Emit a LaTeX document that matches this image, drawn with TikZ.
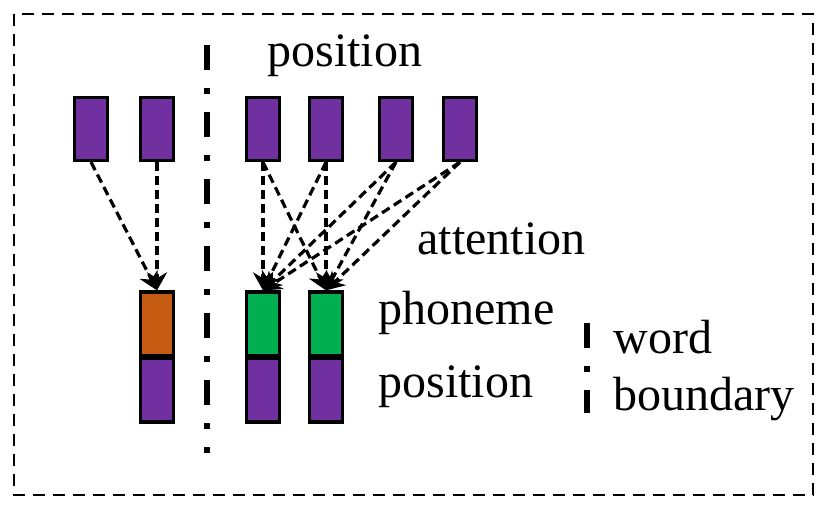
\documentclass[tikz,border=0pt]{standalone}
\usepackage{fontspec}
\setmainfont{Liberation Serif}
\usepackage{tikz}
\usetikzlibrary{arrows.meta}

\definecolor{pospurple}{HTML}{7030A0}
\definecolor{phorange}{HTML}{C55A11}
\definecolor{phgreen}{HTML}{00B050}

\begin{document}
\begin{tikzpicture}[x=0.5pt,y=-0.5pt,>=Latex,
    box/.style={draw=black,line width=1.6pt,inner sep=0pt,
        minimum width=16.5pt,minimum height=31.5pt},
    posbox/.style={box,fill=pospurple},
    cell/.style={box,minimum height=32pt},
    attn/.style={->,line width=1.6pt,dash pattern=on 4.5pt off 2.5pt,
        >={Stealth[length=9pt,width=10pt]}},
    lbl/.style={font=\fontsize{24}{28}\selectfont,inner sep=0pt,anchor=base west},
    divider/.style={line width=3pt,line cap=butt,
        dash pattern=on 12.5pt off 9pt on 3pt off 9pt}]

\useasboundingbox (0,0) rectangle (830,513);

% Frame
\draw[line width=1.25pt,dash pattern=on 6pt off 4pt] (14,14) rectangle (813,495);

% Word boundary
\draw[divider] (207,45) -- (207,453);

% Position inputs
\foreach \i/\x in {1/91,2/157,3/263,4/326,5/396,6/460}{
    \node[posbox] (t\i) at (\x,129) {};
}

% Phoneme + position outputs
\node[cell,fill=phorange] (ph0) at (157,324) {};
\node[cell,fill=pospurple] (ps0) at (157,390) {};
\foreach \i/\x in {1/263,2/326}{
    \node[cell,fill=phgreen] (ph\i) at (\x,324) {};
    \node[cell,fill=pospurple] (ps\i) at (\x,390) {};
}

% Attention
\draw[attn] (t1.south) -- (ph0.north);
\draw[attn] (t2.south) -- (ph0.north);
\foreach \i in {3,...,6}{
    \foreach \j in {1,2}{
        \draw[attn] (t\i.south) -- (ph\j.north);
    }
}

% Labels
\node[lbl] (toplbl) at (267,67) {position};
\node[lbl] (attlbl) at (417,255) {attention};
\node[lbl] (phlbl) at (378,325) {phoneme};
\node[lbl] (pslbl) at (378,397) {position};
\node[lbl] (wlbl) at (613,353) {word};
\node[lbl] (blbl) at (613,410) {boundary};

% Legend
\draw[divider] (587,323) -- (587,413);

\end{tikzpicture}
\end{document}
